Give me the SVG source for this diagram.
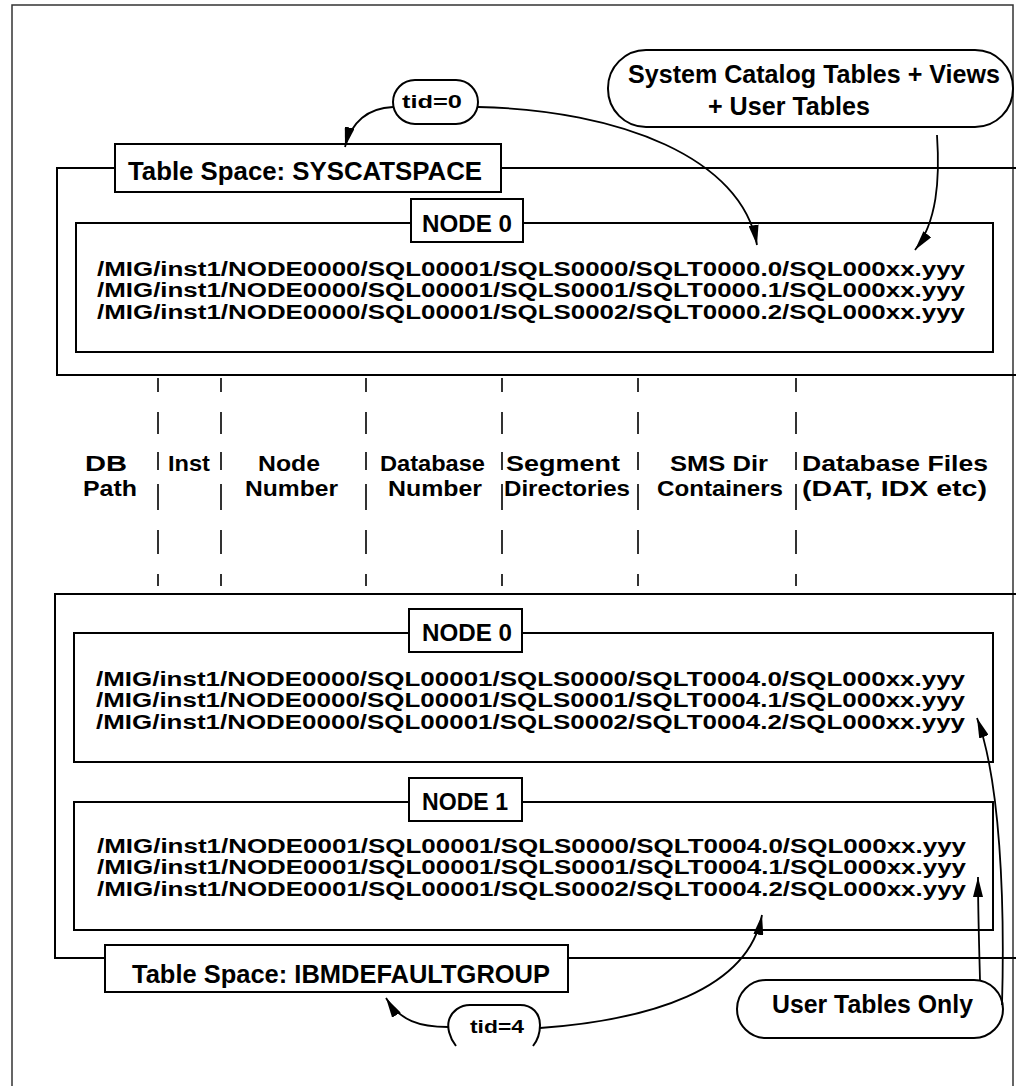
<svg xmlns="http://www.w3.org/2000/svg" width="1016" height="1086" viewBox="0 0 1016 1086">
<defs>
<style>
.ln{fill:none;stroke:#000;stroke-width:2}
.box{fill:#fff;stroke:#000;stroke-width:2}
.frame{fill:none;stroke:#333;stroke-width:1.5}
.dash{fill:none;stroke:#000;stroke-width:1.6}
.t{font-family:"Liberation Sans",Arial,Helvetica,sans-serif;font-weight:bold;fill:#000}
.row{font-size:20px}
.lbl{font-size:25.5px}
.hd{font-size:21.5px}
.nd{font-size:23px}
.tid{font-size:19px}
.con{fill:none;stroke:#000;stroke-width:1.8}
</style>
<marker id="ah" markerWidth="20" markerHeight="10" refX="20" refY="5" orient="auto" markerUnits="userSpaceOnUse">
<path d="M0,0 L20,5 L0,10 Z" fill="#000"/>
</marker>
</defs>
<rect width="1016" height="1086" fill="#fff"/>
<g id="frame">
<path class="frame" d="M12,1086 V5 H1013 V1086"/>
</g>

<g id="ts-syscatspace">
<path class="ln" d="M115,168 H57 V375 H1016 M501,168 H1016"/>
<rect class="box" x="115" y="144" width="386" height="48"/>
<text class="t lbl" x="128" y="180" textLength="354" lengthAdjust="spacingAndGlyphs">Table Space: SYSCATSPACE</text>
</g>

<g id="node0-top">
<rect class="box" x="76" y="223" width="917" height="129"/>
<rect class="box" x="411" y="199" width="112" height="43"/>
<text class="t nd" x="422" y="232" textLength="90" lengthAdjust="spacingAndGlyphs">NODE 0</text>
<text class="t row" x="97" y="276" textLength="868" lengthAdjust="spacingAndGlyphs">/MIG/inst1/NODE0000/SQL00001/SQLS0000/SQLT0000.0/SQL000xx.yyy</text>
<text class="t row" x="97" y="297" textLength="868" lengthAdjust="spacingAndGlyphs">/MIG/inst1/NODE0000/SQL00001/SQLS0001/SQLT0000.1/SQL000xx.yyy</text>
<text class="t row" x="97" y="319" textLength="868" lengthAdjust="spacingAndGlyphs">/MIG/inst1/NODE0000/SQL00001/SQLS0002/SQLT0000.2/SQL000xx.yyy</text>
</g>

<g id="columns">
<path class="dash" d="M158,378V392M158,412V434M158,452V470M158,484V510M158,530V554M158,574V586
M221,378V392M221,412V434M221,452V470M221,484V510M221,530V554M221,574V586
M366,378V392M366,412V434M366,452V470M366,484V510M366,530V554M366,574V586
M502,378V392M502,412V434M502,452V470M502,484V510M502,530V554M502,574V586
M638,378V392M638,412V434M638,452V470M638,484V510M638,530V554M638,574V586
M796,378V392M796,412V434M796,452V470M796,484V510M796,530V554M796,574V586"/>
<text class="t hd" x="85" y="471" textLength="42" lengthAdjust="spacingAndGlyphs">DB</text>
<text class="t hd" x="83" y="496" textLength="54" lengthAdjust="spacingAndGlyphs">Path</text>
<text class="t hd" x="168" y="471" textLength="42" lengthAdjust="spacingAndGlyphs">Inst</text>
<text class="t hd" x="258" y="471" textLength="62" lengthAdjust="spacingAndGlyphs">Node</text>
<text class="t hd" x="245" y="496" textLength="93" lengthAdjust="spacingAndGlyphs">Number</text>
<text class="t hd" x="380" y="471" textLength="105" lengthAdjust="spacingAndGlyphs">Database</text>
<text class="t hd" x="388" y="496" textLength="94" lengthAdjust="spacingAndGlyphs">Number</text>
<text class="t hd" x="506" y="471" textLength="114" lengthAdjust="spacingAndGlyphs">Segment</text>
<text class="t hd" x="504" y="496" textLength="126" lengthAdjust="spacingAndGlyphs">Directories</text>
<text class="t hd" x="670" y="471" textLength="98" lengthAdjust="spacingAndGlyphs">SMS Dir</text>
<text class="t hd" x="657" y="496" textLength="126" lengthAdjust="spacingAndGlyphs">Containers</text>
<text class="t hd" x="802" y="471" textLength="186" lengthAdjust="spacingAndGlyphs">Database Files</text>
<text class="t hd" x="802" y="496" textLength="185" lengthAdjust="spacingAndGlyphs">(DAT, IDX etc)</text>
</g>

<g id="ts-ibmdefaultgroup">
<path class="ln" d="M1016,594 H55 V958 H105 M568,958 H1016"/>
<rect class="box" x="105" y="945" width="463" height="47"/>
<text class="t lbl" x="132" y="983" textLength="418" lengthAdjust="spacingAndGlyphs">Table Space: IBMDEFAULTGROUP</text>
</g>

<g id="node0-bottom">
<rect class="box" x="74" y="633" width="919" height="129"/>
<rect class="box" x="409" y="609" width="113" height="43"/>
<text class="t nd" x="422" y="641" textLength="90" lengthAdjust="spacingAndGlyphs">NODE 0</text>
<text class="t row" x="96" y="686" textLength="869" lengthAdjust="spacingAndGlyphs">/MIG/inst1/NODE0000/SQL00001/SQLS0000/SQLT0004.0/SQL000xx.yyy</text>
<text class="t row" x="96" y="707" textLength="869" lengthAdjust="spacingAndGlyphs">/MIG/inst1/NODE0000/SQL00001/SQLS0001/SQLT0004.1/SQL000xx.yyy</text>
<text class="t row" x="96" y="729" textLength="869" lengthAdjust="spacingAndGlyphs">/MIG/inst1/NODE0000/SQL00001/SQLS0002/SQLT0004.2/SQL000xx.yyy</text>
</g>

<g id="node1">
<rect class="box" x="74" y="802" width="919" height="128"/>
<rect class="box" x="409" y="778" width="113" height="43"/>
<text class="t nd" x="422" y="810" textLength="86" lengthAdjust="spacingAndGlyphs">NODE 1</text>
<text class="t row" x="97" y="853" textLength="869" lengthAdjust="spacingAndGlyphs">/MIG/inst1/NODE0001/SQL00001/SQLS0000/SQLT0004.0/SQL000xx.yyy</text>
<text class="t row" x="97" y="874" textLength="869" lengthAdjust="spacingAndGlyphs">/MIG/inst1/NODE0001/SQL00001/SQLS0001/SQLT0004.1/SQL000xx.yyy</text>
<text class="t row" x="97" y="896" textLength="869" lengthAdjust="spacingAndGlyphs">/MIG/inst1/NODE0001/SQL00001/SQLS0002/SQLT0004.2/SQL000xx.yyy</text>
</g>

<g id="tid0">
<rect class="box" x="393" y="80" width="85" height="44" rx="22" ry="22"/>
<text class="t tid" x="402" y="108" textLength="60" lengthAdjust="spacingAndGlyphs">tid=0</text>
</g>

<g id="tid4">
<path class="ln" d="M456,1046 C449,1037 447,1027 449,1020 C452,1011 460,1005 470,1005 H520 C532,1005 540,1013 540,1025 C540,1034 537,1041 533,1046"/>
<text class="t tid" x="470" y="1033" textLength="54" lengthAdjust="spacingAndGlyphs">tid=4</text>
</g>

<g id="note-syscat">
<rect class="box" x="608" y="50" width="405" height="77" rx="38" ry="38"/>
<text class="t lbl" x="628" y="83" textLength="372" lengthAdjust="spacingAndGlyphs" style="font-size:25px">System Catalog Tables + Views</text>
<text class="t lbl" x="708" y="115" textLength="162" lengthAdjust="spacingAndGlyphs" style="font-size:25px">+ User Tables</text>
</g>

<g id="note-user">
<rect class="box" x="737" y="980" width="266" height="58" rx="29" ry="29"/>
<text class="t lbl" x="772" y="1013" textLength="201" lengthAdjust="spacingAndGlyphs" style="font-size:25px">User Tables Only</text>
</g>

<g id="connectors">
<path class="con" marker-end="url(#ah)" d="M393,107 C368,108 351,122 345,147"/>
<path class="con" marker-end="url(#ah)" d="M478,107 C620,110 742,158 757,245"/>
<path class="con" marker-end="url(#ah)" d="M937,135 C940,180 937,222 915,250"/>
<path class="con" marker-end="url(#ah)" d="M448,1027 C420,1027 400,1021 386,998"/>
<path class="con" marker-end="url(#ah)" d="M540,1028 C650,1020 748,990 762,915"/>
<path class="con" marker-end="url(#ah)" d="M980,980 C979,940 978,910 978,877"/>
<path class="con" marker-end="url(#ah)" d="M1002,1005 C1005,900 1000,780 977,718"/>
</g>
</svg>
